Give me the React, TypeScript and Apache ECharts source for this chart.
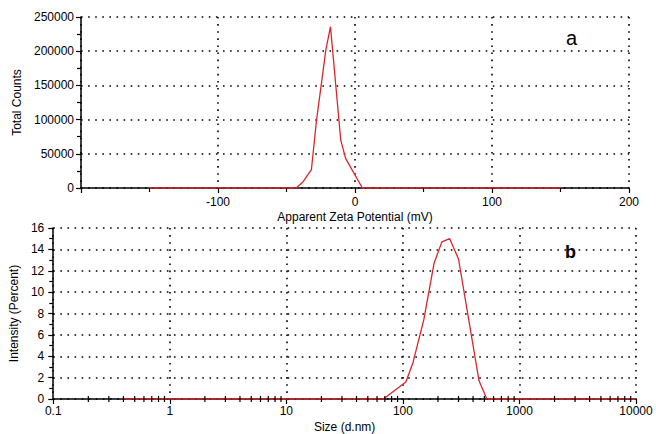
import React, { useEffect, useRef } from "react";
import * as echarts from "echarts";

// Panel a: zeta potential distribution
const zetaValues: [number, number][] = [
  [-150, 0], [-43, 0], [-38, 8800], [-31.8, 27000], [-28.1, 99000], [-24.5, 153000],
  [-21.3, 201700], [-17.9, 235800], [-10.4, 69900], [-6.8, 43000], [5.4, 0], [150, 0],
];
const zetaTicks = { min: -200, max: 200, interval: 100 };
const countTicks = { min: 0, max: 250000, interval: 50000 };

// Panel b: size distribution (intensity)
const sizeValues: [number, number][] = [
  [0.4, 0], [68, 0], [106, 1.6], [122, 3.4], [151, 7.4], [185, 12.7], [216, 14.7],
  [252, 15.0], [300, 13.1], [450, 1.7], [525, 0], [10000, 0],
];
const sizeDecades = [0.1, 1, 10, 100, 1000];
const minorMultipliers = [2, 3, 4, 5, 6, 7, 8, 9];
const intensityTicks = { min: 0, max: 16, interval: 2 };

const FONT = "Liberation Sans, Arial, sans-serif";
const RED = "#d9262b";

const sizeMinorTicks: [number, number][] = [];
sizeDecades.forEach((d) => minorMultipliers.forEach((m) => sizeMinorTicks.push([d * m, 0])));

const dotted = { color: "#000", width: 1.6, type: [1.6, 5.5] as any };

export default function App() {
  const ref = useRef<HTMLDivElement>(null);
  useEffect(() => {
    if (!ref.current) return;
    document.body.style.margin = "0";
    const chart = echarts.init(ref.current, undefined, { renderer: "svg" });
    const axisCommon = {
      axisLine: { onZero: false, lineStyle: { color: "#000", width: 1.5 } },
      axisTick: { lineStyle: { color: "#000", width: 1.2 }, length: 5 },
      minorTick: { show: true, splitNumber: 2, length: 4, lineStyle: { color: "#000", width: 1.2 } },
      splitLine: { show: true, lineStyle: dotted },
      axisLabel: { color: "#000", fontSize: 12, fontFamily: FONT },
      nameTextStyle: { color: "#000", fontSize: 12, fontFamily: FONT },
    };
    chart.setOption({
      animation: false,
      backgroundColor: "#fff",
      grid: [
        { left: 81, right: 27, top: 17, height: 171, containLabel: false },
        { left: 53, right: 20, top: 228, height: 172, containLabel: false },
      ],
      xAxis: [
        {
          ...axisCommon,
          gridIndex: 0,
          type: "value",
          min: zetaTicks.min,
          max: zetaTicks.max,
          interval: zetaTicks.interval,
          name: "Apparent Zeta Potential (mV)",
          nameLocation: "middle",
          nameGap: 23,
          axisLabel: {
            ...axisCommon.axisLabel,
            margin: 8,
            formatter: (v: number) => (v === zetaTicks.min ? "" : String(v)),
          },
        },
        {
          ...axisCommon,
          gridIndex: 1,
          type: "log",
          logBase: 10,
          min: 0.1,
          max: 10000,
          minorTick: { show: false },
          name: "Size (d.nm)",
          nameLocation: "middle",
          nameGap: 22,
          axisLabel: {
            ...axisCommon.axisLabel,
            margin: 6,
            formatter: (v: number) => String(v),
          },
        },
      ],
      yAxis: [
        {
          ...axisCommon,
          gridIndex: 0,
          type: "value",
          min: countTicks.min,
          max: countTicks.max,
          interval: countTicks.interval,
          name: "Total Counts",
          nameLocation: "middle",
          nameGap: 52,
          axisLabel: { ...axisCommon.axisLabel, margin: 7, formatter: (v: number) => String(v) },
        },
        {
          ...axisCommon,
          gridIndex: 1,
          type: "value",
          min: intensityTicks.min,
          max: intensityTicks.max,
          interval: intensityTicks.interval,
          name: "Intensity (Percent)",
          nameLocation: "middle",
          nameGap: 27,
          axisLabel: { ...axisCommon.axisLabel, margin: 9, formatter: (v: number) => String(v) },
        },
      ],
      series: [
        {
          type: "line",
          xAxisIndex: 0,
          yAxisIndex: 0,
          data: zetaValues,
          showSymbol: false,
          symbol: "none",
          lineStyle: { color: RED, width: 1.3 },
          z: 5,
        },
        {
          type: "line",
          xAxisIndex: 1,
          yAxisIndex: 1,
          data: sizeValues,
          showSymbol: false,
          symbol: "none",
          lineStyle: { color: RED, width: 1.3 },
          z: 5,
        },
        {
          type: "custom",
          xAxisIndex: 1,
          yAxisIndex: 1,
          data: sizeMinorTicks,
          silent: true,
          z: 6,
          renderItem: (params: any, api: any) => {
            const p = api.coord([api.value(0), api.value(1)]);
            return {
              type: "line",
              shape: { x1: p[0], y1: p[1] - 3, x2: p[0], y2: p[1] + 3 },
              style: { stroke: "#000", lineWidth: 1.2 },
            };
          },
        },
      ],
      graphic: [
        {
          type: "text",
          left: 566,
          top: 28,
          style: { text: "a", fontSize: 20, fontFamily: FONT, fill: "#000" },
        },
        {
          type: "text",
          left: 565,
          top: 243,
          style: { text: "b", fontSize: 18, fontWeight: "bold", fontFamily: FONT, fill: "#000" },
        },
      ],
    });
    return () => chart.dispose();
  }, []);
  return <div ref={ref} style={{ width: 656, height: 434 }} />;
}
